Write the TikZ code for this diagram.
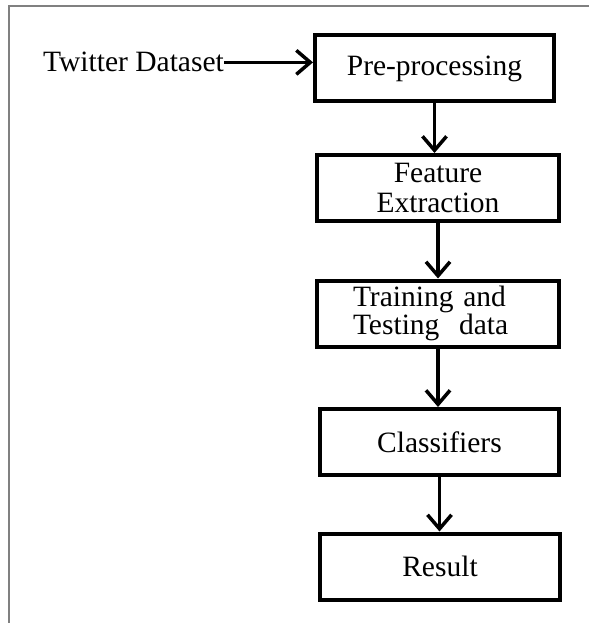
\documentclass[tikz,border=0pt]{standalone}
\usepackage{fontspec}
\setmainfont{Liberation Serif}
\usetikzlibrary{arrows.meta}

\tikzset{
  stage/.style={draw, line width=4pt, minimum width=#1, minimum height=66pt, inner sep=0pt},
  flow/.style={line width=3.5pt, -{Straight Barb[length=14pt, width=24pt]}}
}

\begin{document}
\begin{tikzpicture}[x=1pt, y=-1pt, font=\fontsize{29.5}{30}\selectfont]
  \useasboundingbox (0,0) rectangle (589,623);

  % Frame (cut at right and bottom)
  \draw[gray, line width=2pt] (9,623) -- (9,6) -- (589,6);

  % Input
  \node[anchor=base west, inner sep=0pt] (tw) at (43,72) {Twitter Dataset};

  % Stages
  \node[stage=239pt] (pre) at (434.5,68.5) {Pre-processing};
  \node[stage=242pt, align=center] (feat) at (438,188) {Feature\\Extraction};
  \node[stage=242pt, align=left, text width=170pt, font=\fontsize{29.5}{25}\selectfont] (train) at (438,313.5) {Training and\\Testing~ data};
  \node[stage=239pt] (clas) at (439.5,442) {Classifiers};
  \node[stage=240pt] (res) at (440,566.5) {Result};

  % Arrows
  \draw[flow] (tw.east) -- (tw.east -| pre.west);
  \draw[flow] (pre.south) -- (pre.south |- feat.north);
  \draw[flow] (feat.south) -- (feat.south |- train.north);
  \draw[flow] (train.south) -- (train.south |- clas.north);
  \draw[flow] (clas.south) -- (clas.south |- res.north);
\end{tikzpicture}
\end{document}
